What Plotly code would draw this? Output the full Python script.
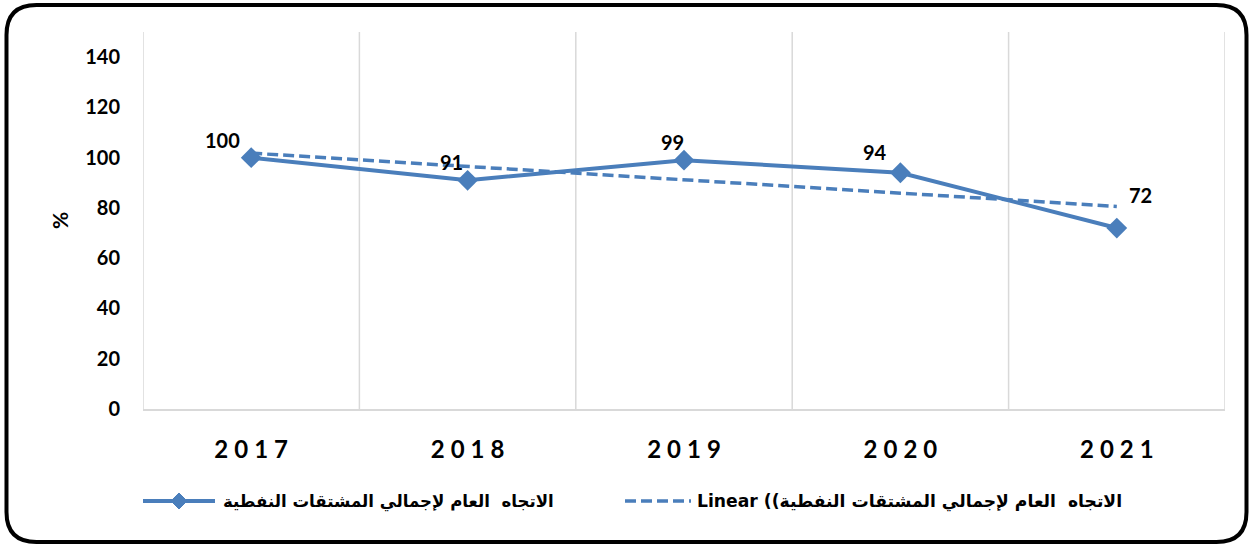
import numpy as np
import plotly.graph_objects as go

# ---- data ----
years = ["2017", "2018", "2019", "2020", "2021"]
values = [100, 91, 99, 94, 72]
series_name = "الاتجاه  العام لإجمالي المشتقات النفطية"
trend_name = "Linear ((\u200eالاتجاه  العام لإجمالي المشتقات النفطية"
y_ticks = [0, 20, 40, 60, 80, 100, 120, 140]

# ---- styling ----
W, H = 1249, 546
L, R, T, B = 143, 24, 32, 137
PW, PH = W - L - R, H - T - B
BLUE = "#4a7ebb"
GRID = "#d9d9d9"
FONT = "Lato, 'DejaVu Sans', sans-serif"
AFONT = "'DejaVu Sans', sans-serif"
DASH = "11px,5px"
label_offsets = [(-29, 18), (-16, 18), (-12, 18), (-25, 21), (24, 33)]

xs = np.arange(1, len(years) + 1)
coef = np.polyfit(xs, values, 1)
trend = np.polyval(coef, xs)

fig = go.Figure()
fig.add_trace(go.Scatter(
    x=xs, y=trend, mode="lines", name=trend_name, showlegend=False,
    line=dict(color=BLUE, width=3.5, dash=DASH),
))
fig.add_trace(go.Scatter(
    x=xs, y=values, mode="lines+markers", name=series_name, showlegend=False,
    line=dict(color=BLUE, width=4),
    marker=dict(symbol="diamond", size=16, color=BLUE),
))

# data labels
for x, v, (dx, dy) in zip(xs, values, label_offsets):
    fig.add_annotation(x=x, y=v, text=f"<b>{v}</b>", showarrow=False,
                       xshift=dx, yshift=dy,
                       font=dict(family=FONT, size=20, color="black"))


def px2paper(px, py):
    return (px - L) / PW, (H - B - py) / PH


def path_from(pts):
    out = ""
    for cmd, ps in pts:
        out += cmd + " ".join(f"{px2paper(a, b)[0]:.5f},{px2paper(a, b)[1]:.5f}" for a, b in ps) + " "
    return out + "Z"


# vertical category gridlines
shapes = []
for b in np.arange(0.5, len(years) + 1, 1.0):
    shapes.append(dict(type="line", xref="x", yref="paper", x0=b, x1=b, y0=0, y1=1,
                       line=dict(color=GRID, width=1.5), layer="below"))

# rounded outer border
x0, y0, x1, y1, r = 6.5, 5, 1246.5, 542, 30
border = [
    ("M", [(x0 + r, y0)]), ("L", [(x1 - r, y0)]), ("Q", [(x1, y0), (x1, y0 + r)]),
    ("L", [(x1, y1 - r)]), ("Q", [(x1, y1), (x1 - r, y1)]),
    ("L", [(x0 + r, y1)]), ("Q", [(x0, y1), (x0, y1 - r)]),
    ("L", [(x0, y0 + r)]), ("Q", [(x0, y0), (x0 + r, y0)]),
]
shapes.append(dict(type="path", xref="paper", yref="paper", path=path_from(border),
                   line=dict(color="black", width=4), fillcolor="rgba(0,0,0,0)"))

# legend (drawn manually to match the long symbols of the original)
LY = 501
lx0, ly0 = px2paper(143, LY)
lx1, _ = px2paper(215, LY)
shapes.append(dict(type="line", xref="paper", yref="paper", x0=lx0, x1=lx1, y0=ly0, y1=ly0,
                   line=dict(color=BLUE, width=4)))
cx, d = 179, 8
diamond = [("M", [(cx, LY - d)]), ("L", [(cx + d, LY)]), ("L", [(cx, LY + d)]), ("L", [(cx - d, LY)])]
shapes.append(dict(type="path", xref="paper", yref="paper", path=path_from(diamond),
                   line=dict(color=BLUE, width=1), fillcolor=BLUE))
dx0, _ = px2paper(625, LY)
dx1, _ = px2paper(691, LY)
shapes.append(dict(type="line", xref="paper", yref="paper", x0=dx0, x1=dx1, y0=ly0, y1=ly0,
                   line=dict(color=BLUE, width=3.5, dash=DASH)))
tx1, _ = px2paper(221, LY + 1)
tx2, ty = px2paper(695, LY + 1)
fig.add_annotation(xref="paper", yref="paper", x=tx1, y=ty, xanchor="left", yanchor="middle",
                   text=f"<b>{series_name}</b>", showarrow=False,
                   font=dict(family=AFONT, size=16.6, color="black"))
fig.add_annotation(xref="paper", yref="paper", x=tx2, y=ty, xanchor="left", yanchor="middle",
                   text=f"<b>{trend_name}</b>", showarrow=False,
                   font=dict(family=AFONT, size=17.2, color="black"))

fig.update_layout(
    width=W, height=H,
    margin=dict(l=L, r=R, t=T, b=B),
    paper_bgcolor="white", plot_bgcolor="white",
    shapes=shapes,
    showlegend=False,
    font=dict(family=FONT, color="black"),
)
fig.update_xaxes(
    range=[0.5, len(years) + 0.5], tickvals=xs,
    ticktext=["<b>" + "\u2005".join(y) + "</b>" for y in years],
    showgrid=False, zeroline=False, showline=True, linecolor=GRID, linewidth=1.5,
    ticks="", ticklabelstandoff=18, tickfont=dict(family=FONT, size=24, color="black"),
)
fig.update_yaxes(
    range=[0, 150], tickvals=y_ticks, ticktext=[f"<b>{t}</b>" for t in y_ticks],
    showgrid=False, zeroline=False, showline=False, ticks="",
    ticklabelstandoff=22, tickfont=dict(family=FONT, size=20, color="black"),
    title=dict(text="<b>%</b>", font=dict(family=FONT, size=21, color="black"), standoff=10),
)

fig.write_html("out.html", config={"displayModeBar": False},
               post_script="document.body.style.margin='0';")
